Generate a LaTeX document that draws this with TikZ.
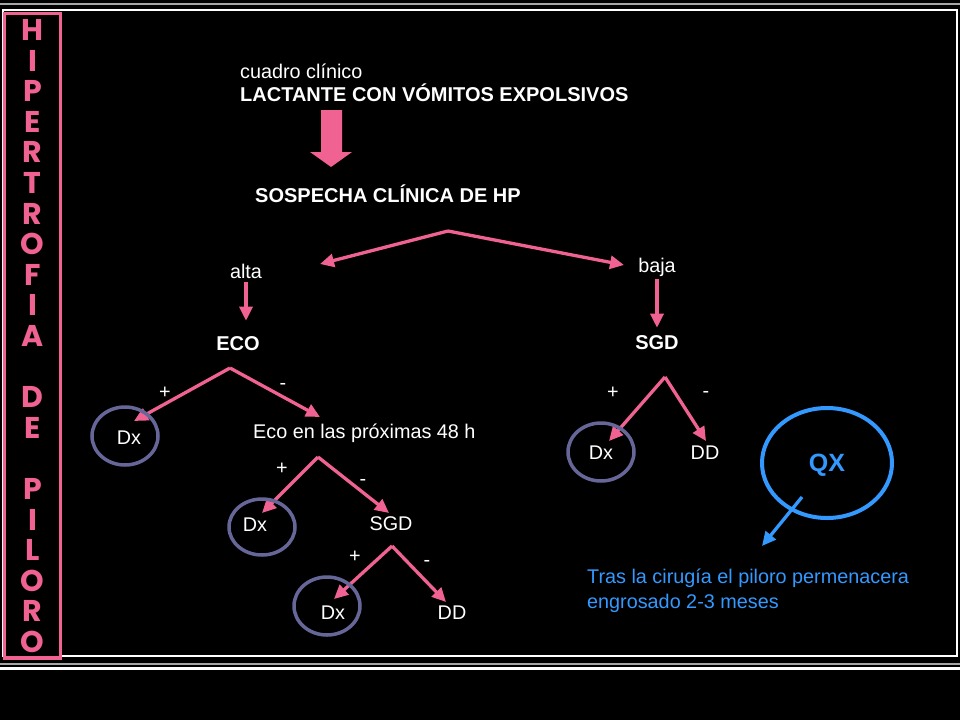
\documentclass[tikz,border=0pt]{standalone}
\usepackage{fontspec}
\setmainfont{Liberation Sans}
\newfontfamily\sidefont{Poppins}
\usetikzlibrary{arrows.meta, calc}

\definecolor{hpink}{RGB}{240,98,146}
\definecolor{ringgray}{RGB}{102,102,153}
\definecolor{qxblue}{RGB}{51,153,255}

\begin{document}
\begin{tikzpicture}[x=1pt, y=-1pt, >={Triangle[length=14pt, width=13pt]},
    txt/.style={white, inner sep=0pt, font=\fontsize{19.8}{22}\selectfont},
    btxt/.style={txt, font=\fontsize{20}{22}\selectfont\bfseries},
    branch/.style={->, hpink, line width=3.3pt},
    ring/.style={draw=ringgray, line width=3.5pt}]

    % Background and frame
    \fill[black] (0,0) rectangle (960,720);
    \useasboundingbox (0,0) rectangle (960,720);
    \draw[gray!70, line width=1.5pt] (0,4) -- (960,4);
    \draw[white, line width=1.2pt] (3,10) rectangle (957,656);
    \draw[gray!70, line width=1.5pt] (0,664) -- (960,664);
    \draw[white, line width=3pt] (0,668) -- (960,668);

    % Side title
    \draw[hpink, line width=3.5pt, fill=black] (4.5,13.5) rectangle (60.5,658);
    \foreach \ch [count=\i from 0] in {H,I,P,E,R,T,R,O,F,I,A,{},D,E,{},P,I,L,O,R,O}
        \node[hpink, inner sep=0pt, font=\sidefont\fontsize{30}{30}\selectfont\bfseries]
            (side\i) at (32.5, 30+30.6*\i) {\ch};

    % Clinical picture
    \node[txt, anchor=base west] (cuadro) at (240,78) {cuadro clínico};
    \node[btxt, anchor=base west] (lactante) at (240,101) {LACTANTE CON VÓMITOS EXPOLSIVOS};
    \fill[hpink] (321,110) -- (342,110) -- (342,152) -- (352,152) -- (331,167)
        -- (310,152) -- (321,152) -- cycle;
    \node[btxt, anchor=base west] (sospecha) at (255,202) {SOSPECHA CLÍNICA DE HP};

    % First split
    \coordinate (topFork) at (448,231);
    \coordinate (altaTip) at (320,264);
    \coordinate (bajaTip) at (624,265);
    \draw[branch] (topFork) -- (altaTip);
    \draw[branch] (topFork) -- (bajaTip);

    % High suspicion: ECO
    \node[txt] (alta) at (246,271) {alta};
    \node[btxt] (eco) at (238,344) {ECO};
    \draw[branch, shorten <=4pt, shorten >=16pt] (alta.south) -- (alta.south |- eco.north);

    \coordinate (ecoFork) at (230,368);
    \coordinate (ecoPos) at (134,421);
    \coordinate (ecoNeg) at (320,417);
    \draw[branch] (ecoFork) -- (ecoPos);
    \draw[branch] (ecoFork) -- (ecoNeg);
    \node[txt] (ecoPlus) at (165,393) {+};
    \node[txt] (ecoMinus) at (283,386) {-};

    \draw[ring] (125,436) ellipse (33 and 29);
    \node[txt] (dxA) at (129,438) {Dx};
    \node[txt, anchor=west] (eco48) at (253,433) {Eco en las próximas 48 h};

    \coordinate (eco48Fork) at (318,457);
    \coordinate (eco48Pos) at (262,513);
    \coordinate (eco48Neg) at (389,513);
    \draw[branch] (eco48Fork) -- (eco48Pos);
    \draw[branch] (eco48Fork) -- (eco48Neg);
    \node[txt] (eco48Plus) at (282,469) {+};
    \node[txt] (eco48Minus) at (363,482) {-};

    \draw[ring] (262,527) ellipse (33 and 28);
    \node[txt] (dxB) at (255,525) {Dx};
    \node[txt] (sgdA) at (391,524) {SGD};

    \coordinate (sgdAFork) at (392,546);
    \coordinate (sgdAPos) at (334,599);
    \coordinate (sgdANeg) at (446,602);
    \draw[branch] (sgdAFork) -- (sgdAPos);
    \draw[branch] (sgdAFork) -- (sgdANeg);
    \node[txt] (sgdAPlus) at (355,557) {+};
    \node[txt] (sgdAMinus) at (427,563) {-};

    \draw[ring] (327,606) ellipse (33 and 29);
    \node[txt] (dxC) at (333,613) {Dx};
    \node[txt] (ddA) at (452,613) {DD};

    % Low suspicion: SGD
    \node[txt] (baja) at (657,267) {baja};
    \node[btxt] (sgdB) at (657,343) {SGD};
    \draw[branch, shorten <=3pt, shorten >=8pt] (baja.south) -- (baja.south |- sgdB.north);

    \coordinate (sgdBFork) at (665,377);
    \coordinate (sgdBPos) at (609,441);
    \coordinate (sgdBNeg) at (706,441);
    \draw[branch] (sgdBFork) -- (sgdBPos);
    \draw[branch] (sgdBFork) -- (sgdBNeg);
    \node[txt] (sgdBPlus) at (613,393) {+};
    \node[txt] (sgdBMinus) at (706,394) {-};

    \draw[ring] (601,452) ellipse (33 and 29);
    \node[txt] (dxD) at (601,453) {Dx};
    \node[txt] (ddB) at (705,453) {DD};

    % Surgery
    \draw[qxblue, line width=4pt] (827,463) ellipse (65 and 55);
    \node[btxt, qxblue, font=\fontsize{25}{27}\selectfont\bfseries] (qx) at (827,465) {QX};
    \coordinate (qxStart) at (802,497);
    \coordinate (qxTip) at (762,546);
    \draw[->, qxblue, line width=3.3pt] (qxStart) -- (qxTip);
    \node[txt, qxblue, anchor=north west, align=left, font=\fontsize{19.8}{25}\selectfont]
        (tras) at (587,569) {Tras la cirugía el piloro permenacera\\engrosado 2-3 meses};

\end{tikzpicture}
\end{document}
